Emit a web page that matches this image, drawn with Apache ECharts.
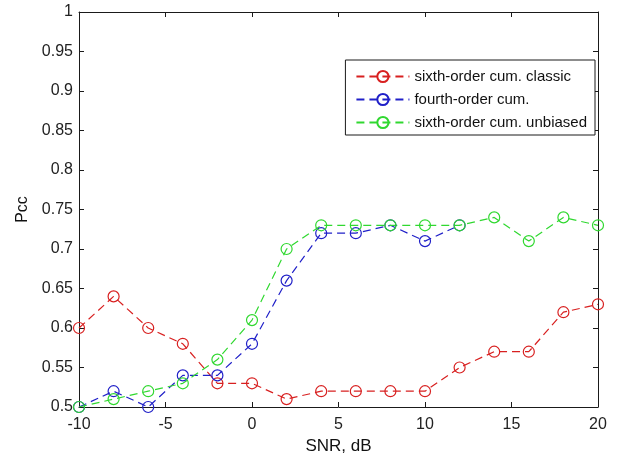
<!DOCTYPE html>
<html>
<head>
<meta charset="utf-8">
<script src="https://cdn.jsdelivr.net/npm/echarts@6/dist/echarts.min.js"></script>
<style>
  html, body { margin: 0; padding: 0; background: #fff; }
  #main { width: 618px; height: 465px; }
</style>
</head>
<body>
<div id="main"></div>
<script>
const snr = [-10, -8, -6, -4, -2, 0, 2, 4, 6, 8, 10, 12, 14, 16, 18, 20];
const sixthClassic = [0.60, 0.64, 0.60, 0.58, 0.53, 0.53, 0.51, 0.52, 0.52, 0.52, 0.52, 0.55, 0.57, 0.57, 0.62, 0.63];
// the blue curve stops under the green one at 12 dB
const fourthOrder = [0.50, 0.52, 0.50, 0.54, 0.54, 0.58, 0.66, 0.72, 0.72, 0.73, 0.71, 0.73, null, null, null, null];
const sixthUnbiased = [0.50, 0.51, 0.52, 0.53, 0.56, 0.61, 0.70, 0.73, 0.73, 0.73, 0.73, 0.73, 0.74, 0.71, 0.74, 0.73];
const names = ['sixth-order cum. classic', 'fourth-order cum.', 'sixth-order cum. unbiased'];
const colors = ['#d82020', '#2020c8', '#30d830'];

const chartDom = document.getElementById('main');
const myChart = echarts.init(chartDom);

const font = 'Liberation Sans, Arial, sans-serif';
const axisLine = { show: true, onZero: false, lineStyle: { color: '#1a1a1a', width: 1 } };
const axisTick = { inside: true, length: 5, lineStyle: { color: '#1a1a1a' } };

function makeSeries(name, values, color) {
  return {
    name: name,
    type: 'line',
    data: snr.map((x, i) => [x, values[i]]),
    symbol: 'circle',
    symbolSize: 11,
    itemStyle: { color: 'rgba(0,0,0,0)', borderColor: color, borderWidth: 1.2 },
    lineStyle: { color: color, width: 1.2, type: [8, 5] },
    emphasis: { disabled: true },
    animation: false
  };
}

const myChartOption = {
  backgroundColor: '#fff',
  textStyle: { fontFamily: font },
  grid: { left: 79, right: 20, top: 12, bottom: 58 },
  legend: {
    right: 23,
    top: 60,
    orient: 'vertical',
    itemWidth: 53,
    itemHeight: 14,
    itemGap: 8,
    padding: [9, 8, 5, 10],
    borderColor: '#1a1a1a',
    borderWidth: 1,
    backgroundColor: '#fff',
    textStyle: { fontFamily: font, fontSize: 15, color: '#111' },
    data: names
  },
  xAxis: [
    {
      type: 'value',
      min: -10,
      max: 20,
      interval: 5,
      name: 'SNR, dB',
      nameLocation: 'middle',
      nameGap: 27,
      nameTextStyle: { fontFamily: font, fontSize: 17, color: '#111' },
      axisLine: axisLine,
      axisTick: axisTick,
      axisLabel: { fontFamily: font, fontSize: 16, color: '#222', margin: 10 },
      splitLine: { show: false }
    },
    {
      type: 'value',
      position: 'top',
      min: -10,
      max: 20,
      interval: 5,
      axisLine: axisLine,
      axisTick: axisTick,
      axisLabel: { show: false },
      splitLine: { show: false }
    }
  ],
  yAxis: [
    {
      type: 'value',
      min: 0.5,
      max: 1,
      interval: 0.05,
      name: 'Pcc',
      nameLocation: 'middle',
      nameGap: 46,
      nameTextStyle: { fontFamily: font, fontSize: 16, color: '#111' },
      axisLine: axisLine,
      axisTick: axisTick,
      axisLabel: {
        fontFamily: font, fontSize: 16, color: '#222', margin: 6,
        formatter: v => String(parseFloat(v.toFixed(2)))
      },
      splitLine: { show: false }
    },
    {
      type: 'value',
      position: 'right',
      min: 0.5,
      max: 1,
      interval: 0.05,
      axisLine: axisLine,
      axisTick: axisTick,
      axisLabel: { show: false },
      splitLine: { show: false }
    }
  ],
  series: [
    makeSeries(names[0], sixthClassic, colors[0]),
    makeSeries(names[1], fourthOrder, colors[1]),
    makeSeries(names[2], sixthUnbiased, colors[2])
  ]
};

myChartOption && myChart.setOption(myChartOption);
</script>
</body>
</html>
